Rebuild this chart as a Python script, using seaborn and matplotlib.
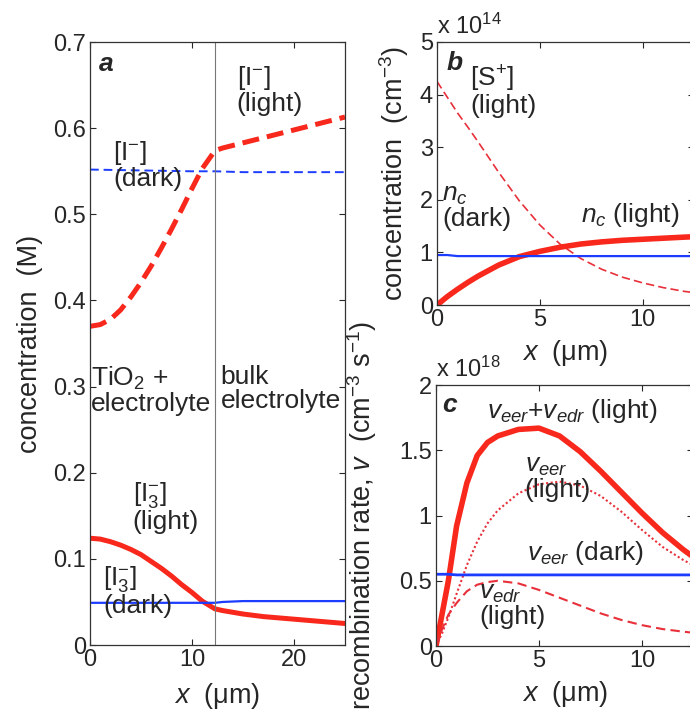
import matplotlib
matplotlib.use("Agg")
import matplotlib.pyplot as plt
import seaborn as sns

# ---- panel a : electrolyte concentrations (M) vs x (um) ----
x_a_light = [0, 1, 2, 3, 4, 5, 6, 7, 8, 9, 10, 11, 12.25, 13, 15, 17, 19, 21, 23, 25]
iodide_light = [0.370, 0.372, 0.378, 0.389, 0.404, 0.421, 0.440, 0.461, 0.483, 0.506,
                0.530, 0.553, 0.574, 0.577, 0.583, 0.589, 0.595, 0.601, 0.607, 0.613]
x_a_dark = [0, 5, 10, 12.25, 15, 20, 25]
iodide_dark = [0.552, 0.551, 0.550, 0.550, 0.549, 0.549, 0.549]
x_a_tri = [0, 1, 2, 3, 4, 5, 6, 7, 8, 9, 10, 11, 12.25, 13, 15, 17, 19, 21, 23, 25]
triiodide_light = [0.124, 0.123, 0.120, 0.116, 0.111, 0.105, 0.097, 0.089, 0.080, 0.070,
                   0.061, 0.051, 0.042, 0.040, 0.036, 0.033, 0.031, 0.029, 0.027, 0.025]
triiodide_dark = [0.049, 0.049, 0.049, 0.049, 0.049, 0.049, 0.049, 0.049, 0.049, 0.049,
                  0.049, 0.049, 0.049, 0.050, 0.051, 0.051, 0.051, 0.051, 0.051, 0.051]
interface_x = 12.25

# ---- panel b : concentrations in units of 1e14 cm^-3 ----
x_b = [0, 0.5, 1, 1.5, 2, 3, 4, 5, 6, 7, 8, 9, 10, 11, 12, 12.6]
dye_cation_light = [4.25, 3.95, 3.65, 3.38, 3.10, 2.52, 1.98, 1.52, 1.15, 0.88,
                    0.68, 0.53, 0.42, 0.33, 0.26, 0.23]
nc_light = [0.0, 0.16, 0.30, 0.43, 0.55, 0.76, 0.92, 1.02, 1.10, 1.16,
            1.20, 1.23, 1.25, 1.27, 1.29, 1.30]
nc_dark = [0.95, 0.95, 0.93, 0.93, 0.93, 0.93, 0.93, 0.93, 0.93, 0.93,
           0.93, 0.93, 0.93, 0.93, 0.93, 0.93]

# ---- panel c : recombination rates in units of 1e18 cm^-3 s^-1 ----
x_c = [0, 0.3, 0.6, 1, 1.5, 2, 2.5, 3, 4, 5, 6, 7, 8, 9, 10, 11, 12, 12.6]
v_total_light = [0.0, 0.25, 0.50, 0.92, 1.25, 1.46, 1.56, 1.61, 1.66, 1.67, 1.61, 1.49,
                 1.34, 1.18, 1.02, 0.87, 0.74, 0.67]
v_eer_light = [0.0, 0.10, 0.22, 0.40, 0.62, 0.80, 0.94, 1.04, 1.17, 1.24, 1.26, 1.23,
               1.15, 1.03, 0.89, 0.76, 0.66, 0.61]
v_edr_light = [0.0, 0.13, 0.24, 0.33, 0.42, 0.47, 0.49, 0.50, 0.48, 0.43, 0.37, 0.31,
               0.25, 0.20, 0.16, 0.13, 0.11, 0.10]
v_eer_dark = [0.55, 0.55, 0.55, 0.545, 0.545, 0.545, 0.545, 0.545, 0.545, 0.545, 0.545,
              0.545, 0.545, 0.545, 0.545, 0.545, 0.545, 0.545]

RED = "#f8281c"
RED_THIN = "#e8303a"
BLUE = "#1c3cff"

sns.set_style("ticks")
plt.rcParams["font.family"] = ["Liberation Sans", "DejaVu Sans"]
plt.rcParams["mathtext.fontset"] = "custom"
plt.rcParams["mathtext.rm"] = "Liberation Sans"
plt.rcParams["mathtext.it"] = "Liberation Sans:italic"
plt.rcParams["mathtext.bf"] = "Liberation Sans:bold"

TICK_FS = 17
ANN_FS = 19
LAB_FS = 19.5

fig = plt.figure(figsize=(6.9, 7.11), dpi=100)
ax_a = fig.add_axes([0.1304, 0.0928, 0.3696, 0.848])
ax_b = fig.add_axes([0.6333, 0.571, 0.373, 0.370])
ax_c = fig.add_axes([0.6319, 0.0914, 0.373, 0.367])

# panel a
sns.lineplot(x=x_a_light, y=iodide_light, ax=ax_a, color=RED, lw=3.6,
             linestyle=(0, (3.4, 1.6)))
sns.lineplot(x=x_a_dark, y=iodide_dark, ax=ax_a, color=BLUE, lw=1.4,
             linestyle=(0, (4.5, 2.5)))
sns.lineplot(x=x_a_tri, y=triiodide_light, ax=ax_a, color=RED, lw=3.6)
sns.lineplot(x=x_a_tri, y=triiodide_dark, ax=ax_a, color=BLUE, lw=1.6)
ax_a.axvline(interface_x, color="#777777", lw=0.8)
ax_a.set_xlim(0, 25)
ax_a.set_ylim(0, 0.7)
ax_a.set_xticks([0, 10, 20])
ax_a.set_yticks([0, 0.1, 0.2, 0.3, 0.4, 0.5, 0.6, 0.7])
ax_a.set_yticklabels(["0", "0.1", "0.2", "0.3", "0.4", "0.5", "0.6", "0.7"])

ax_a.text(0.9, 0.667, "a", fontsize=ANN_FS, fontweight="bold", fontstyle="italic")
ax_a.text(14.4, 0.674, "[I$^{-}$]\n(light)", fontsize=ANN_FS, va="top", linespacing=1.0)
ax_a.text(2.3, 0.588, "[I$^{-}$]\n(dark)", fontsize=ANN_FS, va="top", linespacing=1.0)
ax_a.text(0.1, 0.325, "TiO$_2$ +\nelectrolyte", fontsize=ANN_FS, va="top", linespacing=1.0)
ax_a.text(12.8, 0.325, "bulk\nelectrolyte", fontsize=ANN_FS, va="top", linespacing=1.0)
ax_a.text(4.2, 0.192, "[I$_3^{-}$]\n(light)", fontsize=ANN_FS, va="top", linespacing=1.0)
ax_a.text(1.3, 0.094, "[I$_3^{-}$]\n(dark)", fontsize=ANN_FS, va="top", linespacing=1.0)

# panel b
sns.lineplot(x=x_b, y=dye_cation_light, ax=ax_b, color=RED_THIN, lw=1.2,
             linestyle=(0, (5, 2.5)))
sns.lineplot(x=x_b, y=nc_light, ax=ax_b, color=RED, lw=4)
sns.lineplot(x=x_b, y=nc_dark, ax=ax_b, color=BLUE, lw=1.6)
ax_b.set_xlim(0, 12.5)
ax_b.set_ylim(0, 5)
ax_b.set_xticks([0, 5, 10])
ax_b.set_yticks([0, 1, 2, 3, 4, 5])
ax_b.text(0.45, 4.46, "b", fontsize=ANN_FS, fontweight="bold", fontstyle="italic")
ax_b.text(1.6, 4.58, "[S$^{+}$]\n(light)", fontsize=ANN_FS, va="top", linespacing=1.0)
ax_b.text(0.25, 2.32, "$n_c$\n(dark)", fontsize=ANN_FS, va="top", linespacing=1.0)
ax_b.text(7.0, 1.58, "$n_c$ (light)", fontsize=ANN_FS, va="baseline")
fig.text(0.633, 0.953, "x 10$^{14}$", fontsize=TICK_FS, va="baseline")

# panel c
sns.lineplot(x=x_c, y=v_total_light, ax=ax_c, color=RED, lw=4)
sns.lineplot(x=x_c, y=v_eer_light, ax=ax_c, color=RED_THIN, lw=1.5,
             linestyle=(0, (1, 1.2)))
sns.lineplot(x=x_c, y=v_edr_light, ax=ax_c, color=RED_THIN, lw=1.5,
             linestyle=(0, (4.5, 2.5)))
sns.lineplot(x=x_c, y=v_eer_dark, ax=ax_c, color=BLUE, lw=2)
ax_c.set_xlim(0, 12.5)
ax_c.set_ylim(0, 2)
ax_c.set_xticks([0, 5, 10])
ax_c.set_yticks([0, 0.5, 1, 1.5, 2])
ax_c.set_yticklabels(["0", "0.5", "1", "1.5", "2"])
ax_c.text(0.3, 1.795, "c", fontsize=ANN_FS, fontweight="bold", fontstyle="italic")
ax_c.text(2.5, 1.745, "$v_{eer}$+$v_{edr}$ (light)", fontsize=ANN_FS, va="baseline")
ax_c.text(4.3, 1.47, "$v_{eer}$\n(light)", fontsize=ANN_FS, va="top", linespacing=1.0)
ax_c.text(4.4, 0.66, "$v_{eer}$ (dark)", fontsize=ANN_FS, va="baseline")
ax_c.text(2.1, 0.50, "$v_{edr}$\n(light)", fontsize=ANN_FS, va="top", linespacing=1.0)
fig.text(0.632, 0.470, "x 10$^{18}$", fontsize=TICK_FS, va="baseline")

# common styling
for ax in (ax_a, ax_b, ax_c):
    ax.tick_params(direction="in", top=True, right=True, length=4, width=0.8,
                   labelsize=TICK_FS, pad=3)
    for s in ax.spines.values():
        s.set_linewidth(0.9)
        s.set_color("#333333")
    ax.set_xlabel("$x$  (μm)", fontsize=LAB_FS)

ax_a.set_ylabel("concentration  (M)", fontsize=LAB_FS)
ax_b.set_ylabel("concentration  (cm$^{-3}$)", fontsize=LAB_FS)
ax_c.set_ylabel("recombination rate, $v$  (cm$^{-3}$ s$^{-1}$)", fontsize=LAB_FS)
ax_a.yaxis.set_label_coords(-0.185, 0.5)
ax_b.yaxis.set_label_coords(-0.10, 0.5)
ax_c.yaxis.set_label_coords(-0.222, 0.5)
ax_a.xaxis.set_label_coords(0.5, -0.06)
ax_b.xaxis.set_label_coords(0.5, -0.125)
ax_c.xaxis.set_label_coords(0.5, -0.125)

fig.savefig("out.png", dpi=100)
